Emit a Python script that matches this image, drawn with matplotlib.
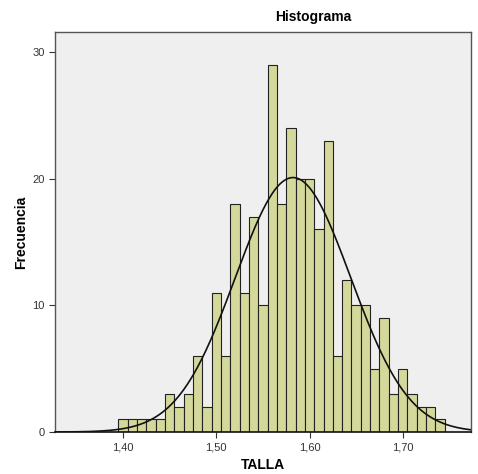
import numpy as np
import matplotlib
matplotlib.use("Agg")
import matplotlib.pyplot as plt

plt.rcParams["font.family"] = ["Liberation Sans", "DejaVu Sans"]

# bin centres (TALLA, width 0.01) and counts
centres = np.round(np.arange(1.40, 1.745, 0.01), 2)
counts = [1, 1, 1, 1, 1, 3, 2, 3, 6, 2,
          11, 6, 18, 11, 17, 10, 29, 18, 24, 20,
          20, 16, 23, 6, 12, 10, 10, 5, 9, 3,
          5, 3, 2, 2, 1]
bin_w = 0.01
xticks = [1.40, 1.50, 1.60, 1.70]
xtick_labels = ["1,40", "1,50", "1,60", "1,70"]
yticks = [0, 10, 20, 30]

counts = np.array(counts)
n = counts.sum()
mean = (centres * counts).sum() / n
std = np.sqrt(((centres - mean) ** 2 * counts).sum() / (n - 1))

fig = plt.figure(figsize=(4.78, 4.74), dpi=100)
ax = fig.add_axes([0.115, 0.0886, 0.87, 0.844])
ax.set_facecolor("#efefef")

ax.bar(centres, counts, width=bin_w, color="#d5d89b", edgecolor="#222222",
       linewidth=0.8, zorder=2)

xs = np.linspace(1.327, 1.773, 400)
ys = n * bin_w / (std * np.sqrt(2 * np.pi)) * np.exp(-0.5 * ((xs - mean) / std) ** 2)
ax.plot(xs, ys, color="#111111", linewidth=1.2, zorder=3)

ax.set_xlim(1.327, 1.773)
ax.set_ylim(0, 31.6)
ax.set_xticks(xticks)
ax.set_xticklabels(xtick_labels)
ax.set_yticks(yticks)
ax.tick_params(axis="both", labelsize=8, colors="#333333", length=4, width=0.8)

for side in ["left", "right", "top"]:
    ax.spines[side].set_color("#555555")
    ax.spines[side].set_linewidth(1.0)
ax.spines["bottom"].set_color("#111111")
ax.spines["bottom"].set_linewidth(1.2)

ax.set_xlabel("TALLA", fontsize=10, fontweight="bold", labelpad=4)
ax.set_ylabel("Frecuencia", fontsize=10, fontweight="bold", labelpad=3)
fig.text(313 / 478, 1 - 17 / 474, "Histograma", fontsize=10, fontweight="bold",
         ha="center", va="center")

fig.savefig("out.png", dpi=100, facecolor="white")
